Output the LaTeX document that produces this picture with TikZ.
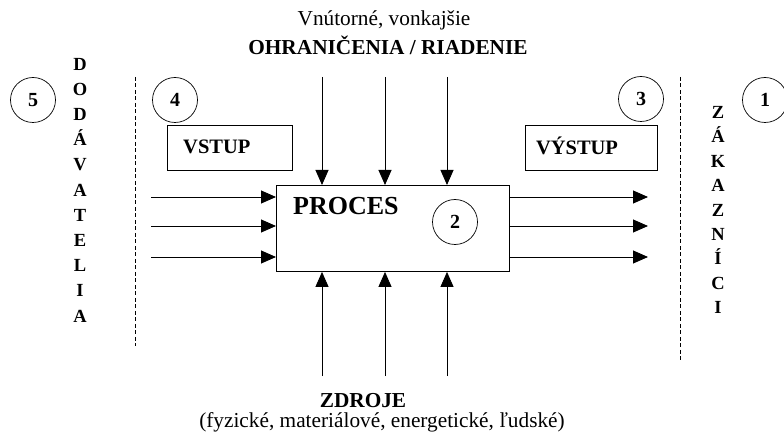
\documentclass[tikz,border=0pt]{standalone}
\usepackage{fontspec}
\setmainfont{Liberation Serif}
\usetikzlibrary{arrows.meta}
\begin{document}
\begin{tikzpicture}[x=1pt,y=-1pt,
  line/.style={draw=black,line width=0.9pt},
  arr/.style={line,-{Triangle[length=15pt,width=13pt]}},
  num/.style={draw,circle,minimum size=45pt,inner sep=0pt,line width=0.7pt,font=\fontsize{20}{24}\selectfont\bfseries},
  lbl/.style={draw,line width=0.8pt,minimum width=125pt,minimum height=45pt,inner sep=0pt},
  vtext/.style={align=center,inner sep=0pt,font=\fontsize{18.5}{25.2}\selectfont\bfseries},
  sep/.style={draw=black,line width=0.8pt,dash pattern=on 4pt off 2.5pt}]
\useasboundingbox (0,0) rectangle (784,435);
% process box
\node[draw,line width=0.9pt,minimum width=233pt,minimum height=86pt,inner sep=0pt,anchor=north west] (proc) at (276,185) {};
\node[anchor=base west,inner sep=0pt,font=\fontsize{26}{30}\selectfont\bfseries] (proct) at (293,215) {PROCES};
\node[num] (c2) at (455,222) {2};
% circles
\node[num] (c5) at (33,100) {5};
\node[num] (c4) at (175,100) {4};
\node[num] (c3) at (641,99) {3};
\node[num] (c1) at (765,100) {1};
% input/output boxes
\node[lbl,anchor=north west] (vstup) at (167,125) {};
\node[anchor=west,inner sep=0pt,font=\fontsize{20.5}{24}\selectfont\bfseries] (vstupt) at (183,147) {VSTUP};
\node[lbl,minimum width=132pt,anchor=north west] (vystup) at (525,125) {};
\node[anchor=center,inner sep=0pt,font=\fontsize{20.5}{24}\selectfont\bfseries] (vystupt) at (577,146) {VÝSTUP};
% dashed separators
\coordinate (dl1) at (135,77); \coordinate (dl2) at (135,346);
\coordinate (dr1) at (680,77); \coordinate (dr2) at (680,360);
\draw[sep] (dl1) -- (dl2);
\draw[sep] (dr1) -- (dr2);
% vertical texts
\node[vtext] (dod) at (80,190) {D\\O\\D\\Á\\V\\A\\T\\E\\L\\I\\A};
\node[vtext,font=\fontsize{18.5}{24.4}\selectfont\bfseries] (zak) at (718,210) {Z\\Á\\K\\A\\Z\\N\\Í\\C\\I};
% input and output arrows
\foreach \y/\n in {197/a,226/b,257/c}{
  \coordinate (in\n) at (151,\y);
  \coordinate (out\n) at (648,\y);
  \draw[arr] (in\n) -- (proc.west |- in\n);
  \draw[arr] (proc.east |- out\n) -- (out\n);
}
% top and bottom arrows
\foreach \x/\n in {322/a,385/b,447/c}{
  \coordinate (top\n) at (\x,77);
  \coordinate (bot\n) at (\x,376);
  \draw[arr] (top\n) -- (top\n |- proc.north);
  \draw[arr] (bot\n) -- (bot\n |- proc.south);
}
% top label
\node[font=\fontsize{21.3}{24}\selectfont,inner sep=0pt] (ttop) at (384,20) {Vnútorné, vonkajšie};
\node[font=\fontsize{21.3}{24}\selectfont\bfseries,inner sep=0pt] (ttop2) at (388,45) {OHRANIČENIA / RIADENIE};
% bottom label
\node[font=\fontsize{21.3}{24}\selectfont\bfseries,inner sep=0pt] (zdroje) at (363,401) {ZDROJE};
\node[font=\fontsize{21.3}{24}\selectfont,inner sep=0pt] (zdroje2) at (382,422) {(fyzické, materiálové, energetické, ľudské)};
\end{tikzpicture}
\end{document}
